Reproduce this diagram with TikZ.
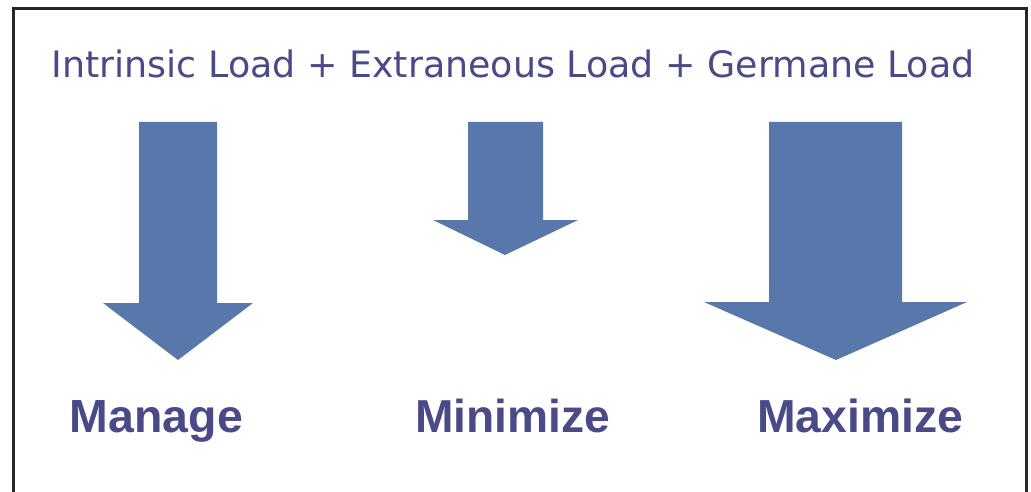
\documentclass[tikz,border=0pt]{standalone}
\usepackage{fontspec}
\setmainfont{Liberation Sans}
\newfontfamily\verd{DejaVu Sans}
\definecolor{txtcol}{HTML}{4A4A88}
\definecolor{arrcol}{HTML}{5878AC}
\tikzset{
  bigarrow/.style={fill=arrcol, draw=none},
  toptext/.style={text=txtcol, font=\verd\fontsize{33}{40}\selectfont, anchor=base, inner sep=0pt},
  labeltext/.style={text=txtcol, font=\bfseries\fontsize{46}{54}\selectfont, anchor=base, inner sep=0pt}
}
\begin{document}
\begin{tikzpicture}[x=1pt,y=-1pt]
\useasboundingbox (0,0) rectangle (1031,492);
\fill[white] (0,0) rectangle (1031,492);
\draw[line width=3pt, black!85] (13,495) -- (13,9) -- (1026,9) -- (1026,495);
\node[toptext] (title) at (513,78) {\resizebox{923pt}{!}{Intrinsic Load + Extraneous Load + Germane Load}};
% arrows
\fill[bigarrow] (139,122) -- (217,122) -- (217,303) -- (253,303) -- (178,360) -- (103,303) -- (139,303) -- cycle;
\fill[bigarrow] (468,122) -- (543,122) -- (543,220) -- (578,220) -- (505,255) -- (433,220) -- (468,220) -- cycle;
\fill[bigarrow] (769,122) -- (902,122) -- (902,302) -- (967,302) -- (836,360) -- (704,302) -- (769,302) -- cycle;
\node[labeltext] (manage) at (156.5,432) {\resizebox{173pt}{!}{Manage}};
\node[labeltext] (minimize) at (512.5,432) {\resizebox{195pt}{!}{Minimize}};
\node[labeltext] (maximize) at (860,432) {\resizebox{206pt}{!}{Maximize}};
\end{tikzpicture}
\end{document}
